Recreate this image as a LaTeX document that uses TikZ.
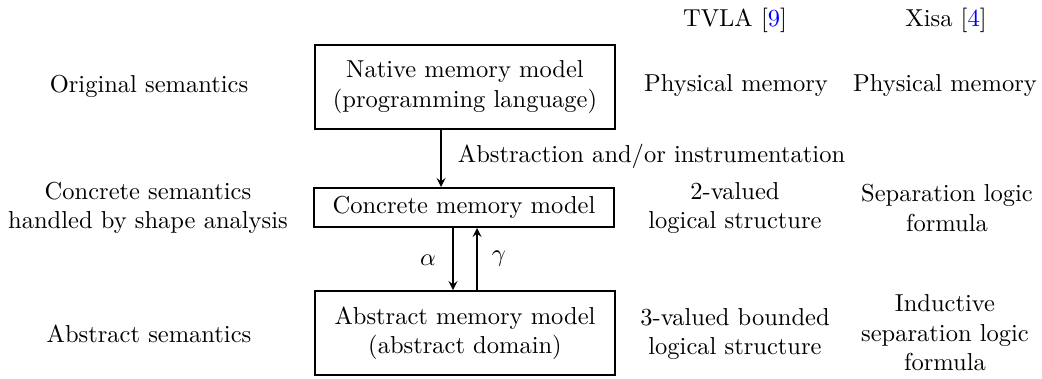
\documentclass[tikz,border=0pt]{standalone}
\usepackage{amsmath}
\usepackage{amssymb}
\usetikzlibrary{arrows}
\definecolor{C}{RGB}{0, 0, 255}

\tikzset{
  modelbox/.style={draw, thick, minimum width=4.3cm, align=center, inner sep=2pt},
  lbl/.style={align=center, inner sep=1pt},
  flow/.style={-stealth, semithick}
}

\begin{document}
\begin{tikzpicture}[x=0.01435cm, y=-0.01435cm]
	\useasboundingbox (0,0) rectangle (1042,379);

	%Cabecera de las columnas
	\node[lbl] (tvla) at (735,20) {TVLA [\textcolor{C}{9}]};
	\node[lbl] (xisa) at (946,20) {Xisa [\textcolor{C}{4}]};

	%Columna izquierda
	\node[lbl] (orig) at (149,86) {Original semantics};
	\node[lbl] (conc) at (148,208) {Concrete semantics\\handled by shape analysis};
	\node[lbl] (abst) at (149,334) {Abstract semantics};

	%Los tres modelos de memoria
	\node[modelbox, minimum height=1.205cm] (native) at (465,87) {Native memory model\\(programming language)};
	\node[modelbox, minimum height=0.56cm] (concrete) at (464,207.5) {Concrete memory model};
	\node[modelbox, minimum height=1.205cm] (abstract) at (465,333) {Abstract memory model\\(abstract domain)};

	%Flechas entre modelos
	\coordinate (ax) at (441,0);
	\coordinate (dx) at (453,0);
	\coordinate (ux) at (477,0);
	\draw[flow] (native.south -| ax) -- (concrete.north -| ax);
	\node[lbl, anchor=west] (instr) at (455,156) {Abstraction and/or instrumentation};
	\draw[flow] (concrete.south -| dx) -- (abstract.north -| dx);
	\draw[flow] (abstract.north -| ux) -- (concrete.south -| ux);
	\node[lbl] (alpha) at (428,260) {$\alpha$};
	\node[lbl] (gamma) at (499,259) {$\gamma$};

	%Columna TVLA
	\node[lbl] (tvla1) at (736,86) {Physical memory};
	\node[lbl] (tvla2) at (735,208) {2-valued\\logical structure};
	\node[lbl] (tvla3) at (735,334) {3-valued bounded\\logical structure};

	%Columna Xisa
	\node[lbl] (xisa1) at (945,86) {Physical memory};
	\node[lbl] (xisa2) at (947,208) {Separation logic\\formula};
	\node[lbl] (xisa3) at (945,333) {Inductive\\separation logic\\formula};
\end{tikzpicture}
\end{document}
